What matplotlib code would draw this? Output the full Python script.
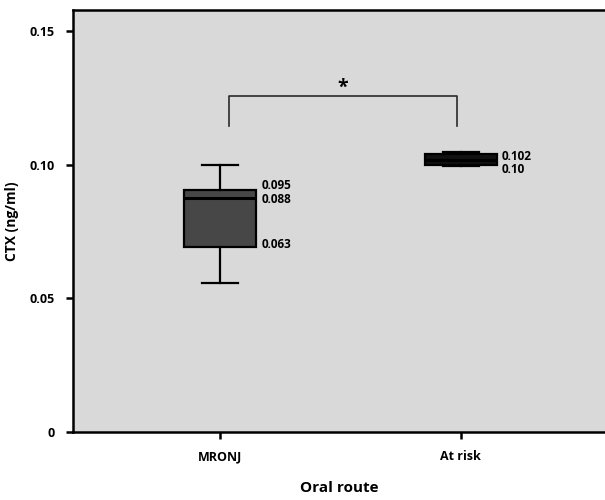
import matplotlib
matplotlib.use("Agg")
import matplotlib.pyplot as plt

# data
groups = ["MRONJ", "At risk"]
whislo = [0.0556, 0.0996]
q1 = [0.0694, 0.1000]
med = [0.0877, 0.1019]
q3 = [0.0907, 0.1040]
whishi = [0.1000, 0.1050]
value_labels = [["0.095", "0.088", "0.063"], ["0.102", "0.10"]]
y_ticks = [0, 0.05, 0.10, 0.15]
y_tick_labels = ["0", "0.05", "0.10", "0.15"]
bracket_y = 0.1257
bracket_foot = 0.1146

plt.rcParams["font.family"] = ["Open Sans", "DejaVu Sans"]
plt.rcParams["font.weight"] = "bold"

fig = plt.figure(figsize=(6.05, 5.0), dpi=100)
ax = fig.add_axes([0.1207, 0.136, 0.8793, 0.844])
ax.set_facecolor("#d9d9d9")

stats = []
for i, g in enumerate(groups):
    stats.append(dict(label=g, whislo=whislo[i], q1=q1[i], med=med[i],
                      q3=q3[i], whishi=whishi[i], fliers=[]))

bp = ax.bxp(stats, positions=[0, 1], widths=0.30, patch_artist=True,
            showfliers=False, capwidths=0.15,
            boxprops=dict(facecolor="#474747", edgecolor="black", linewidth=1.6),
            medianprops=dict(color="black", linewidth=2.2),
            whiskerprops=dict(color="black", linewidth=1.6),
            capprops=dict(color="black", linewidth=1.6))
bp["boxes"][1].set_facecolor("#111111")

# value labels beside the boxes
lab_kw = dict(fontsize=8.5, fontweight="bold", textcoords="offset points",
              ha="left", va="center")
x0 = 0.16
ax.annotate(value_labels[0][0], (x0, q3[0]), xytext=(2, 3), **lab_kw)
ax.annotate(value_labels[0][1], (x0, med[0]), xytext=(2, -1.5), **lab_kw)
ax.annotate(value_labels[0][2], (x0, q1[0]), xytext=(2, 1.5), **lab_kw)
ax.annotate(value_labels[1][0], (1 + x0, med[1]), xytext=(2, 2.5), **lab_kw)
ax.annotate(value_labels[1][1], (1 + x0, q1[1]), xytext=(2, -3), **lab_kw)

# significance bracket
ax.plot([0.0375, 0.0375, 0.983, 0.983],
        [bracket_foot, bracket_y, bracket_y, bracket_foot],
        color="#2a2a2a", linewidth=1.2)
ax.text(0.51, bracket_y - 0.0006, "*", ha="center", va="bottom",
        fontsize=14, fontweight="bold")

ax.set_xlim(-0.6125, 1.6)
ax.set_ylim(0, 0.158)
ax.set_yticks(y_ticks)
ax.set_yticklabels(y_tick_labels, fontsize=9, fontweight="bold")
ax.set_xticks([0, 1])
ax.set_xticklabels(groups, fontsize=9, fontweight="bold")
ax.tick_params(axis="both", direction="out", length=5, width=1.8,
               color="black", pad=8)
for s in ax.spines.values():
    s.set_linewidth(1.8)
    s.set_color("black")
ax.spines["right"].set_visible(False)

ax.set_ylabel("CTX (ng/ml)", fontsize=10, fontweight="bold", labelpad=8)
ax.set_xlabel("Oral route", fontsize=11, fontweight="bold", labelpad=13)

fig.savefig("out.png", dpi=100, facecolor="white")
